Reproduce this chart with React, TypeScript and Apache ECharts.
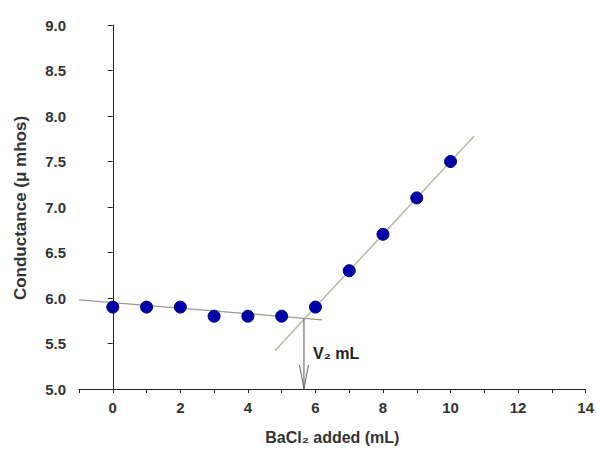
import React, { useEffect, useRef } from "react";
import * as echarts from "echarts";

const volumes = [0, 1, 2, 3, 4, 5, 6, 7, 8, 9, 10];
const conductance = [5.9, 5.9, 5.9, 5.8, 5.8, 5.8, 5.9, 6.3, 6.7, 7.1, 7.5];
const fitFlat = [[-1, 5.98], [6.2, 5.76]];
const fitRise = [[4.8, 5.42], [10.7, 7.78]];
const endPoint = [[5.66, 5.775]];
const endLabel = "V₂ mL";
const endLabelY = 5.39;
const xTitle = "BaCl₂ added (mL)";
const yTitle = "Conductance (μ mhos)";

const FONT = "'Liberation Sans', Arial, Helvetica, sans-serif";

export default function App() {
  const ref = useRef<HTMLDivElement>(null);
  useEffect(() => {
    if (!ref.current) return;
    const chart = echarts.init(ref.current, null, { renderer: "svg" });
    chart.setOption({
      animation: false,
      backgroundColor: "#ffffff",
      grid: { left: 79, right: 10, top: 25, bottom: 58, containLabel: false },
      graphic: [
        {
          type: "text",
          x: 20,
          y: 208,
          rotation: Math.PI / 2,
          style: {
            text: yTitle,
            font: `bold 17px ${FONT}`,
            fill: "#333",
            align: "center",
            verticalAlign: "middle",
          },
        },
      ],
      xAxis: {
        type: "value",
        min: -1,
        max: 14,
        interval: 1,
        name: xTitle,
        nameLocation: "middle",
        nameGap: 40,
        nameTextStyle: { fontFamily: FONT, fontWeight: "bold", fontSize: 16, color: "#333" },
        axisLine: { show: true, lineStyle: { color: "#222", width: 1 } },
        axisTick: { show: true, length: 4, lineStyle: { color: "#222" } },
        axisLabel: {
          fontFamily: FONT,
          fontWeight: "bold",
          fontSize: 15,
          color: "#333",
          margin: 11,
          formatter: (v: number) => (v >= 0 && v % 2 === 0 ? String(v) : ""),
        },
        splitLine: { show: false },
      },
      yAxis: {
        type: "value",
        min: 5,
        max: 9,
        interval: 0.5,
        axisLine: { show: true, lineStyle: { color: "#222", width: 1 } },
        axisTick: { show: true, length: 5, lineStyle: { color: "#222" } },
        axisLabel: {
          fontFamily: FONT,
          fontWeight: "bold",
          fontSize: 15,
          color: "#333",
          margin: 13,
          formatter: (v: number) => v.toFixed(1),
        },
        splitLine: { show: false },
      },
      series: [
        {
          type: "line",
          data: fitFlat,
          showSymbol: false,
          symbol: "none",
          lineStyle: { color: "#9a9a90", width: 1.2 },
          z: 2,
        },
        {
          type: "line",
          data: fitRise,
          showSymbol: false,
          symbol: "none",
          lineStyle: { color: "#b8b8a4", width: 1.5 },
          z: 2,
        },
        {
          type: "custom",
          data: endPoint,
          z: 3,
          renderItem: (params: any, api: any) => {
            const x = api.value(0);
            const y = api.value(1);
            const top = api.coord([x, y]);
            const bot = api.coord([x, 5]);
            const lab = api.coord([x, endLabelY]);
            return {
              type: "group",
              children: [
                {
                  type: "line",
                  shape: { x1: top[0], y1: top[1], x2: bot[0], y2: bot[1] },
                  style: { stroke: "#555", lineWidth: 1 },
                },
                {
                  type: "polyline",
                  shape: {
                    points: [
                      [bot[0] - 4.5, bot[1] - 24],
                      [bot[0], bot[1]],
                      [bot[0] + 4.5, bot[1] - 24],
                    ],
                  },
                  style: { stroke: "#666", lineWidth: 1, fill: "none" },
                },
                {
                  type: "text",
                  x: lab[0] + 9,
                  y: lab[1],
                  style: {
                    text: endLabel,
                    fill: "#222",
                    font: `bold 16px ${FONT}`,
                    verticalAlign: "middle",
                    align: "left",
                  },
                },
              ],
            };
          },
        },
        {
          type: "scatter",
          data: volumes.map((v, i) => [v, conductance[i]]),
          symbol: "circle",
          symbolSize: 12,
          itemStyle: { color: "#0000aa", borderColor: "#00006a", borderWidth: 1, opacity: 1 },
          z: 4,
        },
      ],
    });
    return () => chart.dispose();
  }, []);
  return (
    <div
      ref={ref}
      style={{ position: "absolute", left: 0, top: 0, width: 597, height: 450 }}
    />
  );
}
